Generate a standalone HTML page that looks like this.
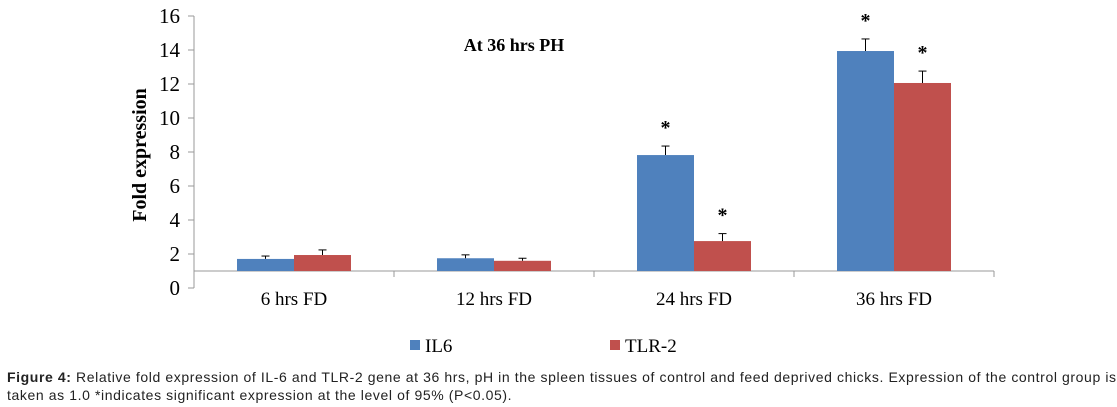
<!DOCTYPE html>
<html><head><meta charset="utf-8"><style>
body{margin:0;width:1117px;height:407px;background:#fff;overflow:hidden}
svg{position:absolute;left:0;top:0}
.cap{position:absolute;left:7px;top:368px;width:1110px;font:14px "Liberation Sans",sans-serif;letter-spacing:0.6px;line-height:18px;color:#222;white-space:nowrap}
</style></head><body>
<svg id="chart" width="1117" height="370" font-family="Liberation Serif, serif"></svg>
<div class="cap"><b>Figure 4:</b> Relative fold expression of IL-6 and TLR-2 gene at 36 hrs, pH in the spleen tissues of control and feed deprived chicks. Expression of the control group is<br>taken as 1.0 *indicates significant expression at the level of 95% (P&lt;0.05).</div>
<script>
const categories=["6 hrs FD","12 hrs FD","24 hrs FD","36 hrs FD"];
const il6=[1.71,1.75,7.82,13.94];
const il6Err=[0.17,0.2,0.53,0.71];
const tlr=[1.94,1.6,2.76,12.06];
const tlrErr=[0.3,0.15,0.44,0.7];
const sigIl6=[false,false,true,true];
const sigTlr=[false,false,true,true];
const yTicks=[0,2,4,6,8,10,12,14,16];
const svg=document.getElementById('chart');
const NS='http://www.w3.org/2000/svg';
const x0=194,catW=200,y0=288,pxU=17,base=1,barW=57;
const y=v=>y0-v*pxU;
function mk(t,a,p){const e=document.createElementNS(NS,t);for(const k in a)e.setAttribute(k,a[k]);(p||svg).appendChild(e);return e;}
let e;
e=mk('line',{x1:x0,y1:y(16),x2:x0,y2:y0,stroke:'#999'});


yTicks.forEach(t=>{
 mk('line',{x1:x0-6,y1:y(t),x2:x0,y2:y(t),stroke:'#999'});
 e=mk('text',{x:x0-14,y:y(t)+7,'text-anchor':'end','font-size':21,fill:'#000'});e.textContent=t;
 
 
});
e=mk('line',{x1:x0,y1:y(base),x2:x0+catW*4,y2:y(base),stroke:'#999'});


for(let i=0;i<=4;i++)mk('line',{x1:x0+i*catW,y1:y(base),x2:x0+i*catW,y2:y(base)+6,stroke:'#999'});
function bar(v,err,sig,xl,col,name){
 e=mk('rect',{x:xl,y:Math.min(y(v),y(base)),width:barW,height:Math.abs(y(base)-y(v)),fill:col});
 
 
 const cx=xl+barW/2;
 mk('line',{x1:cx,y1:y(v),x2:cx,y2:y(v+err),stroke:'#000'});
 mk('line',{x1:cx-4,y1:y(v+err),x2:cx+4,y2:y(v+err),stroke:'#000'});
 if(sig){e=mk('text',{x:cx,y:y(v+err)-12,'text-anchor':'middle','font-size':20,'font-weight':'bold'});e.textContent='*';
 
 }
}
categories.forEach((c,i)=>{
 const cx=x0+catW*i+catW/2;
 bar(il6[i],il6Err[i],sigIl6[i],cx-barW,'#4f81bd','bar-il6');
 bar(tlr[i],tlrErr[i],sigTlr[i],cx,'#c0504d','bar-tlr2');
 e=mk('text',{x:cx,y:305,'text-anchor':'middle','font-size':19});e.textContent=c;
 
 
});
e=mk('text',{x:514,y:51,'text-anchor':'middle','font-size':18,'font-weight':'bold'});e.textContent='At 36 hrs PH';


e=mk('text',{x:0,y:0,'text-anchor':'middle','font-size':20,'font-weight':'bold',transform:'translate(146,155) rotate(-90)'});e.textContent='Fold expression';


[['IL6','#4f81bd',410],['TLR-2','#c0504d',610]].forEach(([t,c,lx])=>{
 const g=mk('g',{});
 
 
 mk('rect',{x:lx,y:340,width:10,height:10,fill:c},g);
 const tx=mk('text',{x:lx+15,y:352,'font-size':19},g);tx.textContent=t;
});
</script>
</body></html>
